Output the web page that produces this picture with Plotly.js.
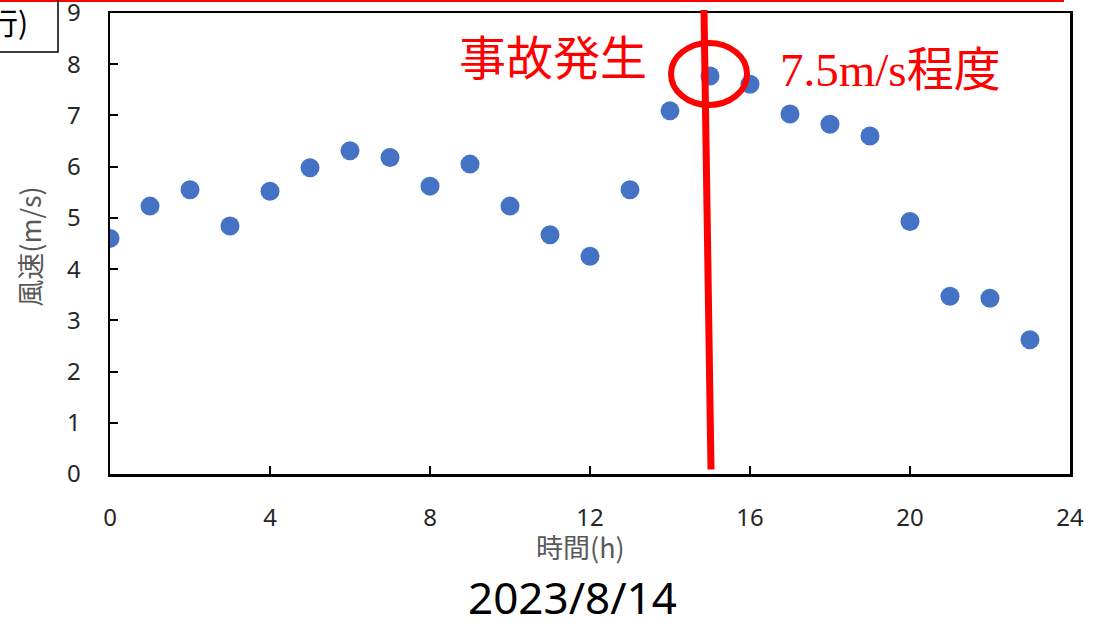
<!DOCTYPE html>
<html>
<head>
<meta charset="utf-8">
<script src="https://cdn.plot.ly/plotly-3.0.1.min.js"></script>
<style>html,body{margin:0;padding:0;background:#fff;}#chart{width:1096px;height:627px;}</style>
</head>
<body>
<div id="chart"></div>
<script>
// Data
const hours = [0,1,2,3,4,5,6,7,8,9,10,11,12,13,14,15,16,17,18,19,20,21,22,23];
const windSpeed = [4.60,5.23,5.55,4.84,5.52,5.98,6.31,6.18,5.62,6.05,5.23,4.67,4.25,5.55,7.09,7.77,7.61,7.03,6.83,6.60,4.93,3.47,3.43,2.62];
const xTickVals = [0,4,8,12,16,20,24];
const yTickVals = [0,1,2,3,4,5,6,7,8,9];
const xTitle = '時間(h)';
const yTitle = '風速(m/s)';
const dateLabel = '2023/8/14';
const eventLabel = '事故発生';
const speedLabel = '7.5m/s程度';
const boxLabel = '行)';

// layout geometry (pixels)
const L = 110, R = 1070, T = 13, B = 474.5, W = 1096, H = 627;
const px = x => (x - L) / (R - L);
const py = y => (B - y) / (B - T);

const trace = {
  x: hours, y: windSpeed, type: 'scatter', mode: 'markers',
  marker: {size: 19, color: '#4472C4'},
  hoverinfo: 'x+y', showlegend: false
};

const layout = {
  width: W, height: H,
  margin: {l: L, r: W - R, t: T, b: H - B, pad: 0},
  paper_bgcolor: '#ffffff', plot_bgcolor: '#ffffff',
  font: {family: 'Noto Sans, Noto Sans CJK JP, sans-serif', color: '#404040'},
  xaxis: {
    range: [-0.0005, 24.0005], tickvals: xTickVals, ticktext: xTickVals.map(String),
    showgrid: false, zeroline: false,
    showline: true, linecolor: '#000', linewidth: 2.5, mirror: true,
    ticks: 'inside', ticklen: 8, tickwidth: 2, tickcolor: '#000',
    ticklabelstandoff: 21, ticklabeloverflow: 'allow',
    tickfont: {size: 24, color: '#262626', family: 'Noto Sans, sans-serif'},
    fixedrange: true
  },
  yaxis: {
    range: [-0.0005, 9.0005], tickvals: yTickVals, ticktext: yTickVals.map(String),
    showgrid: false, zeroline: false,
    showline: true, linecolor: '#000', linewidth: 2.5, mirror: true,
    ticks: 'inside', ticklen: 8, tickwidth: 2, tickcolor: '#000',
    ticklabelstandoff: 22, ticklabeloverflow: 'allow',
    tickfont: {size: 24, color: '#262626', family: 'Noto Sans, sans-serif'},
    fixedrange: true
  },
  shapes: [
    // red horizontal line at the very top
    {type: 'line', xref: 'paper', yref: 'paper', x0: px(0), x1: px(1064), y0: py(1), y1: py(1),
     line: {color: '#FF0000', width: 2}},
    // partial box at top-left
    {type: 'rect', xref: 'paper', yref: 'paper', x0: px(-20), x1: px(58), y0: py(52), y1: py(-10),
     line: {color: '#000', width: 1.5}, fillcolor: 'rgba(0,0,0,0)'},
    // event vertical line
    {type: 'line', xref: 'paper', yref: 'paper', x0: px(711), y0: py(470), x1: px(704), y1: py(10),
     line: {color: '#FF0000', width: 7}},
    // ellipse around the peak
    {type: 'circle', xref: 'paper', yref: 'paper', x0: px(671), x1: px(747), y0: py(105), y1: py(43),
     line: {color: '#FF0000', width: 6}}
  ],
  annotations: [
    {xref: 'paper', yref: 'paper', x: px(30), y: py(21), xanchor: 'right', yanchor: 'middle',
     text: boxLabel, showarrow: false, font: {size: 30, color: '#000', family: 'Noto Sans CJK JP'}},
    {xref: 'paper', yref: 'paper', x: px(553), y: py(55), xanchor: 'center', yanchor: 'middle',
     text: eventLabel, showarrow: false, font: {size: 47, color: '#FF0000', family: 'Noto Sans CJK JP'}},
    {xref: 'paper', yref: 'paper', x: px(778), y: py(70), xanchor: 'left', yanchor: 'middle',
     text: speedLabel, showarrow: false, font: {size: 47, color: '#FF0000', family: 'Liberation Serif, Noto Sans CJK JP'}},
    {xref: 'paper', yref: 'paper', x: px(580), y: py(547), xanchor: 'center', yanchor: 'middle',
     text: xTitle, showarrow: false, font: {size: 27, color: '#595959', family: 'Noto Sans CJK JP'}},
    {xref: 'paper', yref: 'paper', x: px(30), y: py(247), xanchor: 'center', yanchor: 'middle', textangle: -90,
     text: yTitle, showarrow: false, font: {size: 27, color: '#595959', family: 'Noto Sans CJK JP'}},
    {xref: 'paper', yref: 'paper', x: px(572), y: py(598), xanchor: 'center', yanchor: 'middle',
     text: dateLabel, showarrow: false, font: {size: 44, color: '#000', family: 'Noto Sans, sans-serif'}}
  ]
};

Plotly.newPlot('chart', [trace], layout, {displayModeBar: false, staticPlot: true});
</script>
</body>
</html>
